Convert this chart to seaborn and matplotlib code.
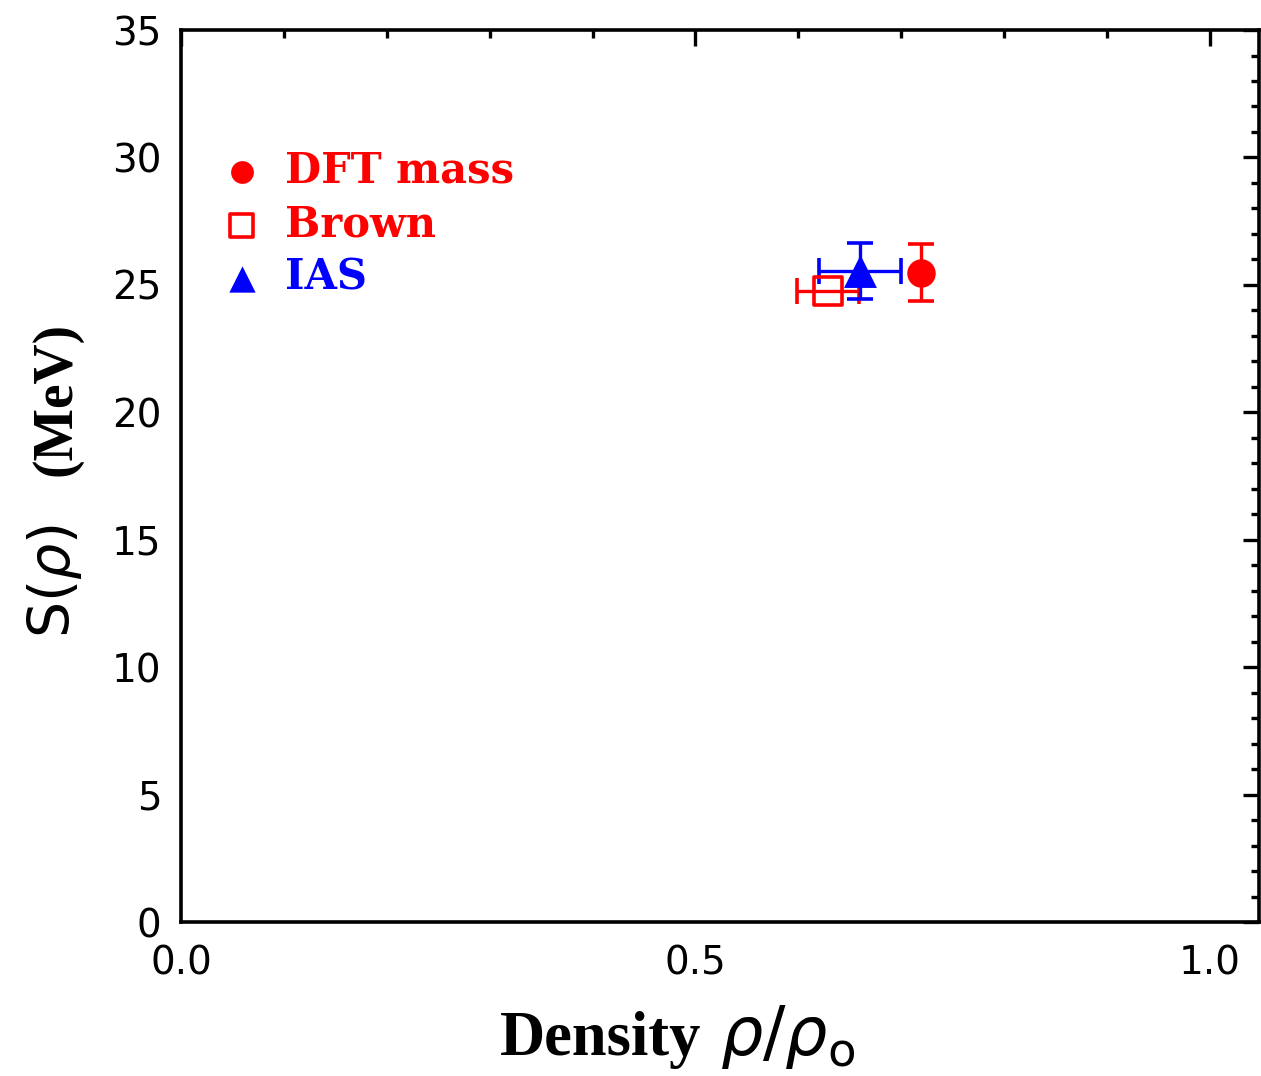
import matplotlib
matplotlib.use("Agg")
import matplotlib.pyplot as plt
import seaborn as sns
from matplotlib.ticker import MultipleLocator, FormatStrFormatter

# Data
series = ["DFT mass", "Brown", "IAS"]
density = [0.719, 0.629, 0.660]
symmetry_energy = [25.47, 24.75, 25.55]
density_err = [0.0, 0.030, 0.040]
energy_err = [1.12, 0.0, 1.10]

colors = ["#ff0000", "#ff0000", "#0000ff"]
markers = ["o", "s", "^"]
sizes = [420, 420, 560]
filled = [True, False, True]

sns.set_theme(style="white")
plt.rcParams["font.family"] = ["DejaVu Sans"]
plt.rcParams["mathtext.fontset"] = "custom"
plt.rcParams["mathtext.rm"] = "DejaVu Sans"
plt.rcParams["mathtext.it"] = "DejaVu Sans:italic"
plt.rcParams["mathtext.bf"] = "DejaVu Serif:bold"

fig = plt.figure(figsize=(12.61, 10.76), dpi=100)
ax = fig.add_axes([0.1435, 0.1431, 0.8549, 0.829])

for i in range(len(series)):
    ax.errorbar(density[i], symmetry_energy[i],
                xerr=density_err[i] if density_err[i] > 0 else None,
                yerr=energy_err[i] if energy_err[i] > 0 else None,
                fmt="none", ecolor=colors[i], elinewidth=2.4,
                capsize=9.5, capthick=2.6, zorder=2)

for i in range(len(series)):
    if filled[i]:
        sns.scatterplot(x=[density[i]], y=[symmetry_energy[i]], ax=ax,
                        marker=markers[i], s=sizes[i], color=colors[i],
                        edgecolor=colors[i], linewidth=0, label=series[i], zorder=3)
    else:
        sns.scatterplot(x=[density[i]], y=[symmetry_energy[i]], ax=ax,
                        marker=markers[i], s=sizes[i], facecolor="none",
                        edgecolor=colors[i], linewidth=2.6, label=series[i], zorder=3)

ax.set_xlim(0, 1.0476)
ax.set_ylim(0, 35)
ax.xaxis.set_major_locator(MultipleLocator(0.5))
ax.xaxis.set_minor_locator(MultipleLocator(0.1))
ax.yaxis.set_major_locator(MultipleLocator(5))
ax.yaxis.set_minor_locator(MultipleLocator(1))
ax.xaxis.set_major_formatter(FormatStrFormatter("%.1f"))
ax.yaxis.set_major_formatter(FormatStrFormatter("%d"))

for sp in ax.spines.values():
    sp.set_linewidth(2.6)
    sp.set_color("black")
    sp.set_visible(True)

ax.tick_params(which="both", direction="in", top=True, right=True,
               width=2.4, color="black", labelsize=28, labelcolor="black")
ax.tick_params(which="major", length=11.5)
ax.tick_params(which="minor", length=5.5)
ax.tick_params(axis="y", which="major", pad=14)
ax.tick_params(axis="x", which="major", pad=16)

ax.set_xlabel("")
ax.set_ylabel("")

# x-axis title
ax.text(0.296, -0.149, "Density", transform=ax.transAxes, ha="left", va="baseline",
        fontsize=45, fontfamily="Liberation Serif", fontweight="bold", color="black")
ax.text(0.500, -0.149, r"$\rho/\rho_{\rm o}$", transform=ax.transAxes, ha="left",
        va="baseline", fontsize=48, color="black")

# y-axis title
ax.text(-0.103, 0.318, r"$\mathrm{S}(\rho)$", transform=ax.transAxes, rotation=90,
        rotation_mode="anchor", ha="left", va="baseline", fontsize=41, color="black")
ax.text(-0.103, 0.500, "(MeV)", transform=ax.transAxes, rotation=90,
        rotation_mode="anchor", ha="left", va="baseline", fontsize=40,
        fontfamily="Liberation Serif", fontweight="bold", color="black")

leg = ax.legend(loc="upper left", bbox_to_anchor=(0.037, 0.866), frameon=False,
                prop={"family": "DejaVu Serif", "weight": "bold", "size": 30},
                labelcolor=colors, markerscale=0.8, handlelength=1.0,
                handletextpad=0.55, labelspacing=0.28, borderaxespad=0,
                borderpad=0)

fig.savefig("out.png", dpi=100)
